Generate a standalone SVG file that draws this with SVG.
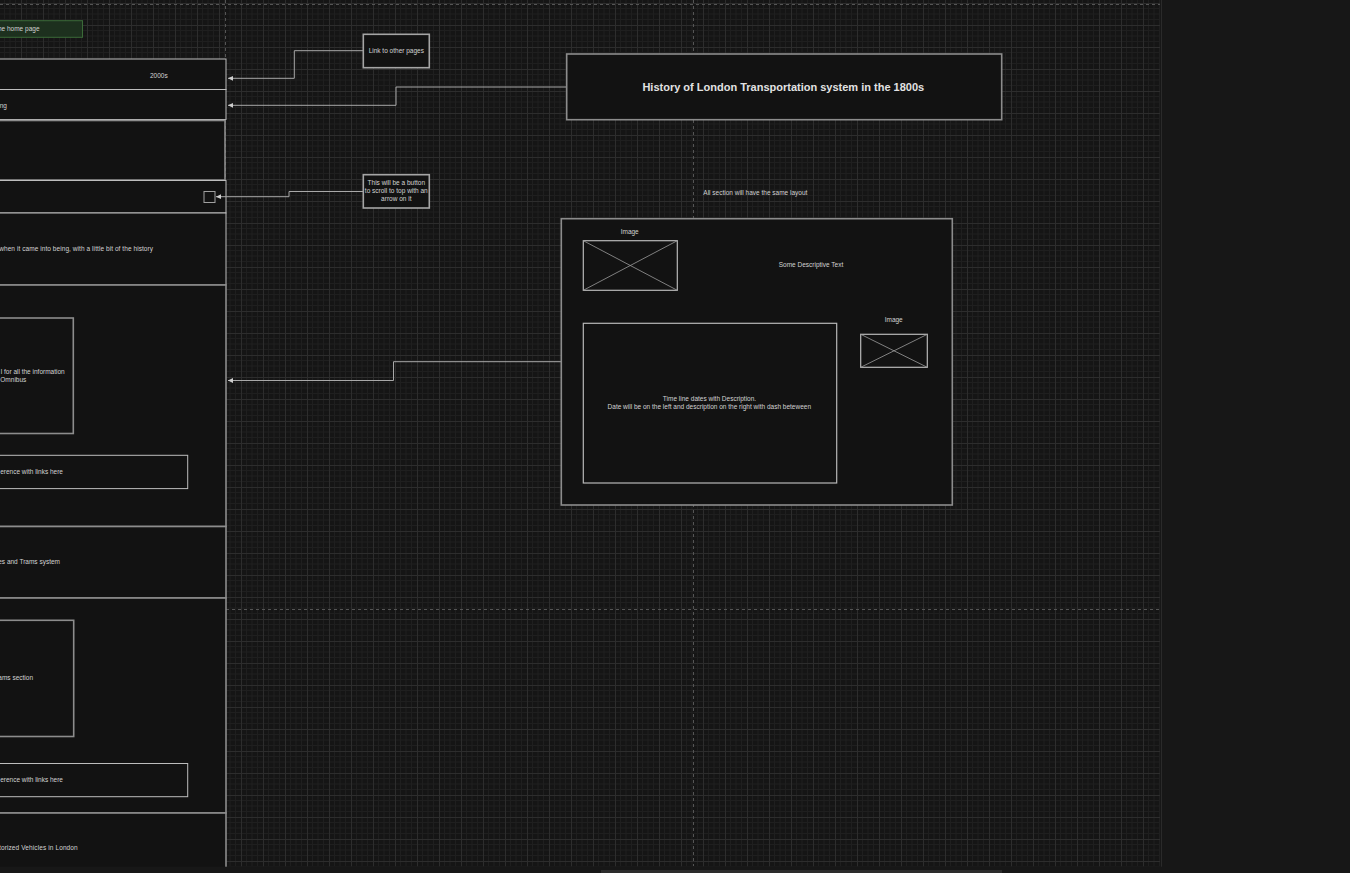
<svg xmlns="http://www.w3.org/2000/svg" width="1350" height="873" viewBox="0 0 1350 873">
<style>
.t{font-family:"Liberation Sans",Arial,sans-serif;font-size:6.5px;fill:#d2d2d2}
.c{text-anchor:middle}
.e{text-anchor:end}
.title{font-family:"Liberation Sans",Arial,sans-serif;font-size:11px;font-weight:bold;fill:#e2e2e2;text-anchor:middle}
.box{fill:#121212;stroke:#bdbdbd;stroke-width:1}
.gbox{fill:#121212;stroke:#8c8c8c;stroke-width:1.6}
.img{fill:#121212;stroke:#b8b8b8;stroke-width:1.2}
.diag{stroke:#9c9c9c;stroke-width:0.8;fill:none}
.conn{fill:none;stroke:#a8a8a8;stroke-width:1}
.dash{stroke:#555;stroke-width:1;stroke-dasharray:3 3;fill:none}
</style>
<defs>
<pattern id="grid" x="21" y="3" width="22" height="22" patternUnits="userSpaceOnUse">
<rect width="22" height="22" fill="#151515"/>
<path d="M5.5 0V22M11 0V22M16.5 0V22M0 5.5H22M0 11H22M0 16.5H22" stroke="#1f1f1f" stroke-width="1"/>
<path d="M0.5 0V22M0 0.5H22" stroke="#2d2d2d" stroke-width="1"/>
</pattern>
<marker id="arr" markerWidth="6" markerHeight="6" refX="5" refY="3" orient="auto" markerUnits="userSpaceOnUse">
<path d="M0,0.6 L5,3 L0,5.4 Z" fill="#cfcfcf"/>
</marker>
</defs>
<rect width="1350" height="873" fill="#171717"/>
<rect x="0" y="0" width="1160" height="866.5" fill="url(#grid)"/>
<line x1="1161.5" y1="0" x2="1161.5" y2="867" stroke="#2a2a2a" stroke-width="1"/>
<path class="dash" d="M0 4.5H1160M226 609.5H1160M225.5 0V866M693.5 0V866"/>

<g id="home-link">
<rect x="-10" y="20.7" width="92.5" height="16.6" fill="#1d301e" stroke="#3b6a38" stroke-width="1"/>
<text class="t e" x="39.5" y="31">he home page</text>
</g>

<g id="left-page">
<rect class="box" x="-10" y="59" width="236" height="30.5"/>
<text class="t" x="150" y="77.8">2000s</text>
<rect class="box" x="-10" y="89.5" width="236" height="30"/>
<text class="t" x="-0.3" y="108">ng</text>
<rect class="gbox" x="-10" y="120.5" width="235" height="59.5"/>
<rect class="box" x="-10" y="180.5" width="236" height="32.5"/>
<rect x="204" y="191.5" width="11" height="11" fill="#121212" stroke="#a0a0a0" stroke-width="1"/>
<rect class="box" x="-10" y="213" width="236" height="72"/>
<text class="t" x="-0.8" y="250.6" textLength="153.8">when it came into being, with a little bit of the history</text>
<rect class="gbox" x="-10" y="285" width="236" height="241.5"/>
<rect class="gbox" x="-10" y="318" width="83.3" height="115.5"/>
<text class="t e" x="64.7" y="373.6">l for all the information</text>
<text class="t" x="0.3" y="381.6">Omnibus</text>
<rect class="box" x="-10" y="455.3" width="197.7" height="33.3"/>
<text class="t e" x="63" y="473.6">erence with links here</text>
<rect class="gbox" x="-10" y="526.5" width="236" height="71.5"/>
<text class="t e" x="60" y="564">es and Trams system</text>
<rect class="gbox" x="-10" y="598" width="236" height="215"/>
<rect class="gbox" x="-10" y="620.3" width="83.7" height="116.2"/>
<text class="t e" x="33" y="679.6">ams section</text>
<rect class="box" x="-10" y="763.5" width="197.7" height="33.2"/>
<text class="t e" x="63" y="781.6">erence with links here</text>
<rect class="gbox" x="-10" y="813" width="236" height="70"/>
<text class="t" x="-1" y="850" textLength="78.7">torized Vehicles in London</text>
</g>

<g id="connectors">
<path class="conn" d="M363.3 50.7H294.3V78.3H228" marker-end="url(#arr)"/>
<path class="conn" d="M566.7 87H396V105.3H228" marker-end="url(#arr)"/>
<path class="conn" d="M363.3 191.5H289V196.7H216" marker-end="url(#arr)"/>
<path class="conn" d="M561.3 361.7H393.5V380.5H228" marker-end="url(#arr)"/>
</g>

<g id="note-links">
<rect class="gbox" x="363.3" y="34.3" width="66" height="33.4" style="stroke:#a5a5a5"/>
<text class="t c" x="396.3" y="53">Link to other pages</text>
</g>
<g id="note-scroll">
<rect class="gbox" x="363.3" y="174.7" width="66" height="33.3" style="stroke:#a5a5a5"/>
<text class="t c" x="396.3" y="185">This will be a button</text>
<text class="t c" x="396.3" y="193">to scroll to top with an</text>
<text class="t c" x="396.3" y="201">arrow on it</text>
</g>

<g id="title">
<rect class="gbox" x="566.7" y="54" width="435" height="65.7"/>
<text class="title" x="783.3" y="91.2">History of London Transportation system in the 1800s</text>
</g>

<g id="layout-note">
<text class="t" x="703.3" y="195">All section will have the same layout</text>
</g>

<g id="section">
<rect class="gbox" x="561.3" y="218.7" width="391" height="286.3"/>
<text class="t c" x="629.7" y="234">Image</text>
<rect class="img" x="583.3" y="240.7" width="94" height="49.6"/>
<path class="diag" d="M583.3 240.7L677.3 290.3M677.3 240.7L583.3 290.3"/>
<text class="t c" x="811" y="266.6">Some Descriptive Text</text>
<text class="t c" x="893.7" y="321.6">Image</text>
<rect class="img" x="860.7" y="334.3" width="66.6" height="33"/>
<path class="diag" d="M860.7 334.3L927.3 367.3M927.3 334.3L860.7 367.3"/>
<rect class="img" x="583.3" y="323.3" width="253.4" height="159.7"/>
<text class="t c" x="709.5" y="401">Time line dates with Description.</text>
<text class="t c" x="709.3" y="409">Date will be on the left and description on the right with dash beteween</text>
</g>

<rect x="0" y="866.7" width="1350" height="6.3" fill="#171717"/>
<rect x="601" y="870" width="401" height="3" fill="#2c2c2c"/>
</svg>
